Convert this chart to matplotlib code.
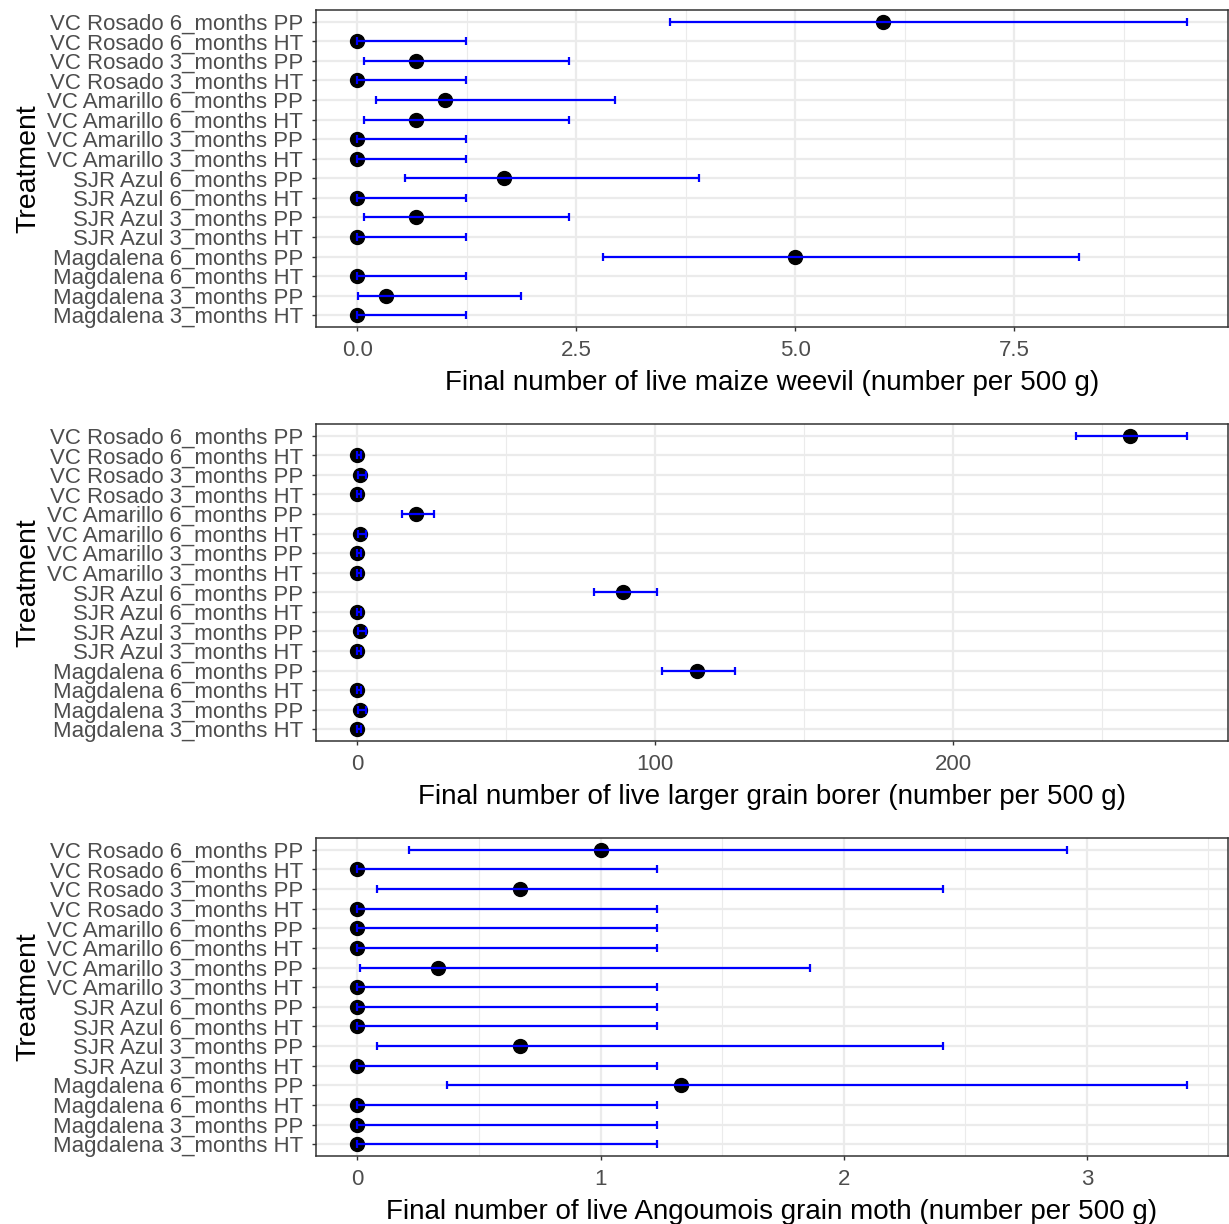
import numpy as np
import matplotlib
matplotlib.use('Agg')
import matplotlib.pyplot as plt
from matplotlib.ticker import FixedLocator

plt.rcParams['font.family'] = ['Liberation Sans', 'DejaVu Sans']

# 处理组 (从上到下)
treatments = [
    "VC Rosado 6_months PP", "VC Rosado 6_months HT",
    "VC Rosado 3_months PP", "VC Rosado 3_months HT",
    "VC Amarillo 6_months PP", "VC Amarillo 6_months HT",
    "VC Amarillo 3_months PP", "VC Amarillo 3_months HT",
    "SJR Azul 6_months PP", "SJR Azul 6_months HT",
    "SJR Azul 3_months PP", "SJR Azul 3_months HT",
    "Magdalena 6_months PP", "Magdalena 6_months HT",
    "Magdalena 3_months PP", "Magdalena 3_months HT",
]

# maize weevil
weevil_mean = [6.0, 0, 0.67, 0, 1.0, 0.67, 0, 0, 1.67, 0, 0.67, 0, 5.0, 0, 0.33, 0]
weevil_lo = [3.57, 0, 0.08, 0, 0.21, 0.08, 0, 0, 0.54, 0, 0.08, 0, 2.80, 0, 0.01, 0]
weevil_hi = [9.47, 1.24, 2.42, 1.24, 2.94, 2.42, 1.24, 1.24, 3.90, 1.24, 2.42, 1.24, 8.24, 1.24, 1.87, 1.24]
weevil_ticks = [0, 2.5, 5.0, 7.5]
weevil_ticklabels = ["0.0", "2.5", "5.0", "7.5"]

# larger grain borer
borer_mean = [259.3, 0, 1.0, 0, 19.7, 1.0, 0, 0, 89.3, 0, 1.0, 0, 114.0, 0, 1.0, 0]
borer_lo = [241.2, 0, 0.35, 0, 15.0, 0.35, 0, 0, 79.5, 0, 0.35, 0, 102.3, 0, 0.35, 0]
borer_hi = [278.3, 1.2, 3.0, 1.2, 25.6, 3.0, 1.2, 1.2, 100.7, 1.2, 3.0, 1.2, 126.7, 1.2, 3.0, 1.2]
borer_ticks = [0, 100, 200]
borer_ticklabels = ["0", "100", "200"]

# Angoumois grain moth
moth_mean = [1.0, 0, 0.67, 0, 0, 0, 0.33, 0, 0, 0, 0.67, 0, 1.33, 0, 0, 0]
moth_lo = [0.21, 0, 0.08, 0, 0, 0, 0.01, 0, 0, 0, 0.08, 0, 0.37, 0, 0, 0]
moth_hi = [2.92, 1.23, 2.41, 1.23, 1.23, 1.23, 1.86, 1.23, 1.23, 1.23, 2.41, 1.23, 3.41, 1.23, 1.23, 1.23]
moth_ticks = [0, 1, 2, 3]
moth_ticklabels = ["0", "1", "2", "3"]

xlabels = [
    "Final number of live maize weevil (number per 500 g)",
    "Final number of live larger grain borer (number per 500 g)",
    "Final number of live Angoumois grain moth (number per 500 g)",
]

W, H = 1229, 1224
fig = plt.figure(figsize=(W / 100, H / 100), dpi=100)

# 面板像素位置 (top, bottom)
panels_px = [(10, 327), (424, 741), (838, 1156)]
left_px, right_px = 316, 1228

panel_data = [
    (weevil_mean, weevil_lo, weevil_hi, weevil_ticks, weevil_ticklabels),
    (borer_mean, borer_lo, borer_hi, borer_ticks, borer_ticklabels),
    (moth_mean, moth_lo, moth_hi, moth_ticks, moth_ticklabels),
]

n = len(treatments)
ypos = np.arange(n, 0, -1)
grid_col = '#EBEBEB'
frame_col = '#333333'

for (top, bot), (mean, lo, hi, ticks, tlabels), xl in zip(panels_px, panel_data, xlabels):
    ax = fig.add_axes([left_px / W, 1 - bot / H, (right_px - left_px) / W, (bot - top) / H])
    mean = np.array(mean)
    lo = np.array(lo)
    hi = np.array(hi)

    # ggplot 式 5% 扩展
    xmin, xmax = min(lo.min(), mean.min()), max(hi.max(), mean.max())
    rng = xmax - xmin
    ax.set_xlim(xmin - 0.05 * rng, xmax + 0.05 * rng)
    ax.set_ylim(0.4, n + 0.6)

    # 网格
    step = ticks[1] - ticks[0]
    minors = np.arange(ticks[0] + step / 2, xmax + 0.05 * rng, step)
    for m in minors:
        ax.axvline(m, color=grid_col, lw=0.8, zorder=0)
    for t in ticks:
        ax.axvline(t, color=grid_col, lw=1.6, zorder=0)
    for y in ypos:
        ax.axhline(y, color=grid_col, lw=1.6, zorder=0)

    ax.scatter(mean, ypos, s=100, color='black', zorder=3)
    ax.errorbar(mean, ypos, xerr=[mean - lo, hi - mean], fmt='none',
                ecolor='blue', elinewidth=1.6, capsize=3, capthick=1.6, zorder=4)

    ax.xaxis.set_major_locator(FixedLocator(ticks))
    ax.set_xticklabels(tlabels)
    ax.set_yticks(ypos)
    ax.set_yticklabels(treatments)
    ax.tick_params(axis='both', length=3, width=1.0, color=frame_col,
                   labelsize=16, labelcolor='#4D4D4D', pad=6.5)
    for s in ax.spines.values():
        s.set_color(frame_col)
        s.set_linewidth(1.1)

    ax.set_xlabel(xl, fontsize=20, color='black', labelpad=6)
    ax.set_ylabel("Treatment", fontsize=20.5, color='black', labelpad=4)

plt.savefig('out.png', dpi=100)
plt.close(fig)
